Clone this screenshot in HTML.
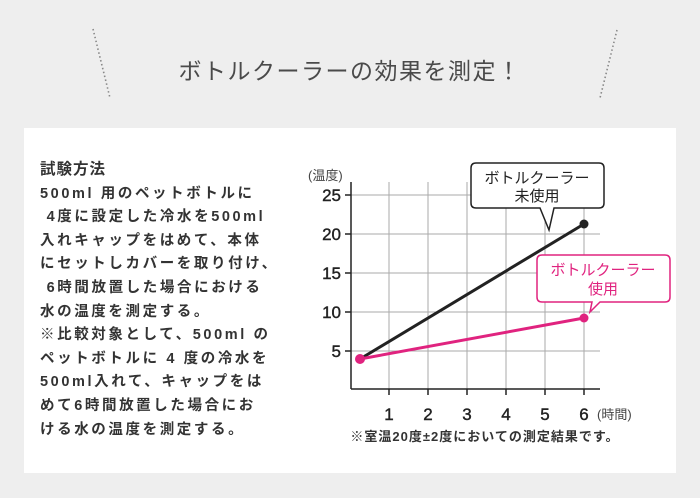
<!DOCTYPE html>
<html><head><meta charset="utf-8"><style>
body{margin:0;width:700px;height:498px;background:#eeeeee;position:relative;overflow:hidden;font-family:"Liberation Sans","Noto Sans CJK JP",sans-serif}
.panel{position:absolute;left:24px;top:128px;width:652px;height:345px;background:#fff}
.title{position:absolute;left:0;width:700px;top:52px;text-align:center;font-size:23px;color:#4a4a4a;letter-spacing:1.5px}
.txt{position:absolute;left:40px;top:158px;font-size:14.5px;font-weight:bold;color:#333;line-height:23.6px;letter-spacing:2.6px;white-space:pre}
</style></head><body>
<div class="panel"></div>
<svg width="700" height="498" style="position:absolute;left:0;top:0">
<line x1="93" y1="29" x2="110" y2="98" stroke="#888" stroke-width="1.6" stroke-dasharray="1.5 2.5"/>
<line x1="617" y1="30" x2="600" y2="98" stroke="#888" stroke-width="1.6" stroke-dasharray="1.5 2.5"/>
<g stroke="#aaa" stroke-width="1">
<line x1="389" y1="182" x2="389" y2="389"/><line x1="428" y1="182" x2="428" y2="389"/><line x1="467" y1="182" x2="467" y2="389"/><line x1="506" y1="182" x2="506" y2="389"/><line x1="545" y1="182" x2="545" y2="389"/><line x1="584" y1="182" x2="584" y2="389"/>
<line x1="351" y1="195" x2="600" y2="195"/><line x1="351" y1="234" x2="600" y2="234"/><line x1="351" y1="273" x2="600" y2="273"/><line x1="351" y1="312" x2="600" y2="312"/><line x1="351" y1="351" x2="600" y2="351"/>
</g>
<g stroke="#222" stroke-width="1.5">
<line x1="351" y1="182" x2="351" y2="389"/><line x1="351" y1="389" x2="600" y2="389"/>
<line x1="345" y1="195" x2="351" y2="195"/><line x1="345" y1="234" x2="351" y2="234"/><line x1="345" y1="273" x2="351" y2="273"/><line x1="345" y1="312" x2="351" y2="312"/><line x1="345" y1="351" x2="351" y2="351"/>
<line x1="389" y1="389" x2="389" y2="395"/><line x1="428" y1="389" x2="428" y2="395"/><line x1="467" y1="389" x2="467" y2="395"/><line x1="506" y1="389" x2="506" y2="395"/><line x1="545" y1="389" x2="545" y2="395"/><line x1="584" y1="389" x2="584" y2="395"/>
</g>
<g font-size="17" fill="#222" text-anchor="end" stroke="#222" stroke-width="0.4">
<text x="341" y="201">25</text><text x="341" y="240">20</text><text x="341" y="279">15</text><text x="341" y="318">10</text><text x="341" y="357">5</text>
</g>
<g font-size="17" fill="#222" text-anchor="middle" stroke="#222" stroke-width="0.4">
<text x="389" y="420">1</text><text x="428" y="420">2</text><text x="467" y="420">3</text><text x="506" y="420">4</text><text x="545" y="420">5</text><text x="584" y="420">6</text>
</g>
<text x="308" y="180" font-size="13" fill="#444">(温度)</text>
<text x="597" y="419" font-size="13" fill="#444">(時間)</text>
<text x="485" y="441" font-size="13" font-weight="bold" fill="#333" text-anchor="middle" letter-spacing="1">※室温20度±2度においての測定結果です。</text>
<line x1="360" y1="359" x2="584" y2="224" stroke="#222" stroke-width="3"/>
<circle cx="584" cy="224" r="4.5" fill="#222"/>
<line x1="360" y1="359" x2="584" y2="318" stroke="#e0237f" stroke-width="3"/>
<circle cx="584" cy="318" r="4.5" fill="#e0237f"/>
<circle cx="360" cy="359" r="5" fill="#e0237f"/>
<path d="M476 163 H599 Q604 163 604 168 V203 Q604 208 599 208 H554 L549 230 L540 208 H476 Q471 208 471 203 V168 Q471 163 476 163 Z" fill="#fff" stroke="#222" stroke-width="1.5"/>
<text x="537" y="183" font-size="15" fill="#222" text-anchor="middle">ボトルクーラー</text>
<text x="537" y="201" font-size="15" fill="#222" text-anchor="middle">未使用</text>
<path d="M542 255 H665 Q670 255 670 260 V297 Q670 302 665 302 H600 L590 312 L592 302 H542 Q537 302 537 297 V260 Q537 255 542 255 Z" fill="#fff" stroke="#e0237f" stroke-width="1.5"/>
<text x="603" y="275" font-size="15" fill="#e0237f" text-anchor="middle">ボトルクーラー</text>
<text x="603" y="294" font-size="15" fill="#e0237f" text-anchor="middle">使用</text>
</svg>
<div class="title">ボトルクーラーの効果を測定！</div>
<div class="txt"><span style="font-size:15.5px;letter-spacing:1px">試験方法</span>
500ml 用のペットボトルに
 4度に設定した冷水を500ml
入れキャップをはめて、本体
にセットしカバーを取り付け、
 6時間放置した場合における
水の温度を測定する。
※比較対象として、500ml の
ペットボトルに 4 度の冷水を
500ml入れて、キャップをは
めて6時間放置した場合にお
ける水の温度を測定する。</div>
</body></html>
